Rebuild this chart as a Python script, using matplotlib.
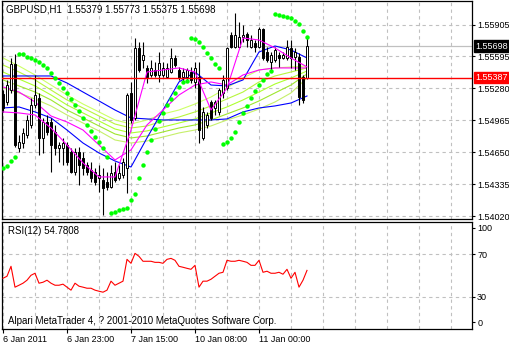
import matplotlib
matplotlib.use('Agg')
import matplotlib.pyplot as plt
import numpy as np

# ---- data (GBPUSD H1, bar 0 = 6 Jan 2011 07:00) ----
opens = [1.55223, 1.55151, 1.55266, 1.55518, 1.54692, 1.54741, 1.54823, 1.54921, 1.55118, 1.55190,
         1.54790, 1.54954, 1.54954, 1.54856, 1.54692, 1.54692, 1.54724, 1.54659, 1.54462, 1.54659,
         1.54593, 1.54528, 1.54478, 1.54462, 1.54396, 1.54380, 1.54364, 1.54314, 1.54462, 1.54396,
         1.54429, 1.54495, 1.55233, 1.54987, 1.55676, 1.55561, 1.55479, 1.55413, 1.55462, 1.55413,
         1.55413, 1.55397, 1.55446, 1.55577, 1.55462, 1.55397, 1.55397, 1.55446, 1.55348, 1.55397,
         1.54790, 1.54921, 1.55151, 1.55085, 1.55052, 1.55233, 1.55282, 1.55807, 1.55692, 1.55692,
         1.55784, 1.55813, 1.55692, 1.55725, 1.55692, 1.55866, 1.55643, 1.55544, 1.55561, 1.55610,
         1.55577, 1.55577, 1.55676, 1.55594, 1.55594, 1.55397, 1.55379]
highs = [1.55266, 1.55364, 1.55577, 1.55616, 1.54823, 1.54888, 1.55020, 1.55184, 1.55413, 1.55233,
         1.54987, 1.55020, 1.54987, 1.54921, 1.54757, 1.54790, 1.54757, 1.54692, 1.54692, 1.54708,
         1.54659, 1.54560, 1.54560, 1.54495, 1.54528, 1.54495, 1.54462, 1.54528, 1.54560, 1.54528,
         1.54593, 1.55233, 1.55348, 1.55774, 1.55741, 1.55741, 1.55512, 1.55561, 1.55544, 1.55643,
         1.55544, 1.55528, 1.55676, 1.55610, 1.55495, 1.55479, 1.55479, 1.55495, 1.55544, 1.55544,
         1.55102, 1.55052, 1.55167, 1.55167, 1.55282, 1.55413, 1.55692, 1.55840, 1.56020, 1.55938,
         1.55905, 1.55840, 1.55807, 1.55758, 1.55889, 1.55879, 1.55692, 1.55643, 1.55692, 1.55643,
         1.55643, 1.55758, 1.55758, 1.55676, 1.55626, 1.55413, 1.55773]
lows = [1.55052, 1.55118, 1.55233, 1.54708, 1.54659, 1.54692, 1.54790, 1.54888, 1.55085, 1.54626,
        1.54642, 1.54823, 1.54462, 1.54626, 1.54560, 1.54528, 1.54528, 1.54446, 1.54429, 1.54331,
        1.54429, 1.54429, 1.54364, 1.54331, 1.54265, 1.54035, 1.54282, 1.54298, 1.54364, 1.54380,
        1.54396, 1.54249, 1.54938, 1.54970, 1.55446, 1.55479, 1.55331, 1.55397, 1.55397, 1.55348,
        1.55397, 1.55387, 1.55430, 1.55495, 1.55364, 1.55348, 1.55348, 1.55331, 1.55282, 1.54741,
        1.54774, 1.54888, 1.54970, 1.55020, 1.55020, 1.55184, 1.55266, 1.55676, 1.55676, 1.55676,
        1.55741, 1.55692, 1.55676, 1.55643, 1.55676, 1.55561, 1.55544, 1.55462, 1.55544, 1.55495,
        1.55571, 1.55561, 1.55479, 1.55462, 1.55118, 1.55134, 1.55375]
closes = [1.55085, 1.55315, 1.55518, 1.54724, 1.54757, 1.54839, 1.54970, 1.55118, 1.55216, 1.54790,
          1.54954, 1.54856, 1.54724, 1.54692, 1.54724, 1.54741, 1.54560, 1.54462, 1.54659, 1.54528,
          1.54495, 1.54462, 1.54396, 1.54364, 1.54429, 1.54298, 1.54314, 1.54446, 1.54380, 1.54446,
          1.54560, 1.55216, 1.54970, 1.55682, 1.55462, 1.55610, 1.55397, 1.55479, 1.55413, 1.55528,
          1.55479, 1.55479, 1.55577, 1.55512, 1.55380, 1.55446, 1.55462, 1.55364, 1.55479, 1.54872,
          1.55052, 1.55020, 1.54987, 1.55151, 1.55266, 1.55364, 1.55676, 1.55692, 1.55807, 1.55790,
          1.55807, 1.55758, 1.55758, 1.55692, 1.55866, 1.55577, 1.55561, 1.55610, 1.55659, 1.55577,
          1.55610, 1.55692, 1.55577, 1.55643, 1.55200, 1.55167, 1.55698]

# parabolic SAR, one dot per bar
sar = [1.54497, 1.54517, 1.54566, 1.54606, 1.55620, 1.55620, 1.55590, 1.55580, 1.55560, 1.55541,
       1.55511, 1.55482, 1.55433, 1.55383, 1.55334, 1.55285, 1.55236, 1.55177, 1.55118, 1.55058,
       1.54990, 1.54921, 1.54862, 1.54802, 1.54753, 1.54694, 1.54606, 1.54054, 1.54064, 1.54084,
       1.54094, 1.54104, 1.54182, 1.54241, 1.54399, 1.54527, 1.54655, 1.54773, 1.54881, 1.54960,
       1.55039, 1.55118, 1.55177, 1.55236, 1.55295, 1.55344, 1.55354, 1.55777, 1.55767, 1.55738,
       1.55688, 1.55629, 1.55580, 1.55521, 1.55482, 1.54734, 1.54753, 1.54793, 1.54852, 1.54950,
       1.55039, 1.55108, 1.55186, 1.55255, 1.55314, 1.55364, 1.55423, 1.55452, 1.56013, 1.56003,
       1.55994, 1.55984, 1.55974, 1.55944, 1.55915, 1.55846, 1.55787]

# moving averages, read every 4th bar
ma_bars = [0, 4, 8, 12, 16, 20, 24, 28, 32, 36, 40, 44, 48, 52, 56, 60, 64, 68, 72, 76]
blue_slow = [1.55403, 1.55403, 1.55403, 1.55403, 1.55334, 1.55245, 1.55157, 1.55068, 1.54990, 1.54980,
             1.54970, 1.54970, 1.54970, 1.54970, 1.54980, 1.55049, 1.55088, 1.55108, 1.55137, 1.55206]
blue_fast = [1.55088, 1.55098, 1.55049, 1.54990, 1.54871, 1.54743, 1.54645, 1.54566, 1.54507, 1.54793,
             1.55068, 1.55344, 1.55442, 1.55314, 1.55305, 1.55364, 1.55639, 1.55698, 1.55659, 1.55580]
pink_fast = [1.55049, 1.55039, 1.55019, 1.54891, 1.54724, 1.54547, 1.54409, 1.54409, 1.54871, 1.55442,
             1.55462, 1.55482, 1.55442, 1.55068, 1.55285, 1.55777, 1.55757, 1.55679, 1.55580, 1.55492]
pink_slow = [1.55295, 1.55245, 1.55147, 1.55009, 1.54950, 1.54871, 1.54724, 1.54576, 1.54675, 1.54921,
             1.55068, 1.55216, 1.55314, 1.55344, 1.55314, 1.55413, 1.55462, 1.55482, 1.55482, 1.55482]
ribbon_1 = [1.55580, 1.55501, 1.55413, 1.55314, 1.55216, 1.55127, 1.55049, 1.54970, 1.54930, 1.54970,
            1.55029, 1.55068, 1.55127, 1.55196, 1.55285, 1.55383, 1.55462, 1.55482, 1.55492, 1.55501]
ribbon_2 = [1.55511, 1.55442, 1.55364, 1.55265, 1.55167, 1.55088, 1.55009, 1.54930, 1.54891, 1.54911,
            1.54960, 1.54999, 1.55049, 1.55108, 1.55177, 1.55245, 1.55344, 1.55403, 1.55442, 1.55482]
ribbon_3 = [1.55442, 1.55373, 1.55305, 1.55216, 1.55118, 1.55039, 1.54960, 1.54881, 1.54842, 1.54862,
            1.54901, 1.54940, 1.54980, 1.55039, 1.55098, 1.55167, 1.55245, 1.55324, 1.55383, 1.55452]
ribbon_4 = [1.55364, 1.55305, 1.55245, 1.55167, 1.55068, 1.54990, 1.54911, 1.54832, 1.54793, 1.54812,
            1.54852, 1.54891, 1.54921, 1.54970, 1.55029, 1.55088, 1.55157, 1.55236, 1.55314, 1.55423]
ribbon_5 = [1.55285, 1.55236, 1.55177, 1.55108, 1.55019, 1.54940, 1.54862, 1.54773, 1.54743, 1.54763,
            1.54802, 1.54842, 1.54871, 1.54911, 1.54970, 1.55019, 1.55078, 1.55147, 1.55236, 1.55383]

rsi = [47.4, 49.3, 58.6, 39.1, 40.9, 42.8, 45.6, 50.2, 52.1, 42.8,
       43.7, 45.6, 42.8, 40.9, 40.9, 41.9, 39.1, 36.3, 42.8, 40.0,
       39.1, 38.1, 38.1, 36.3, 35.3, 34.4, 36.3, 44.7, 40.9, 42.8,
       44.7, 65.1, 61.4, 70.7, 67.9, 63.3, 63.3, 63.3, 62.3, 62.3,
       61.4, 65.1, 66.0, 64.2, 58.6, 57.7, 56.7, 55.8, 59.5, 39.1,
       44.7, 44.7, 46.5, 49.3, 52.1, 53.0, 64.2, 63.3, 63.3, 64.2,
       63.3, 62.3, 59.5, 59.5, 64.2, 53.0, 54.0, 52.1, 52.1, 53.0,
       51.2, 55.8, 47.4, 53.0, 39.1, 45.6, 54.78]

price_ticks = [1.55905, 1.55595, 1.55280, 1.54965, 1.54650, 1.54335, 1.54020]
date_ticks = [0, 16, 32, 48, 64]
date_labels = ['6 Jan 2011', '6 Jan 23:00', '7 Jan 15:00', '10 Jan 08:00', '11 Jan 00:00']
bid = 1.55698
hline = 1.55387
title = 'GBPUSD,H1  1.55379 1.55773 1.55375 1.55698'

plt.rcParams['font.family'] = ['Liberation Sans', 'DejaVu Sans']
FS = 7
FS_AXIS = 6.5

W, H = 510, 346
fig = plt.figure(figsize=(W / 100, H / 100), dpi=100)
fig.patch.set_facecolor('white')


def box(l, t, r, b):
    return [l / W, 1 - b / H, (r - l) / W, (b - t) / H]


ax = fig.add_axes(box(2, 1, 472, 219))
rx = fig.add_axes(box(2, 222, 472, 329))

grid_kw = dict(color='#c0c0c0', lw=0.8, ls=(0, (3, 3)), zorder=0)
for a in (ax, rx):
    a.set_xlim(-0.25, 117.25)
    for gx in range(0, 118, 8):
        a.axvline(gx, **grid_kw)
    for s in a.spines.values():
        s.set_color('black')
        s.set_linewidth(0.9)

# ---- main price panel ----
ax.set_ylim(1.53995, 1.56141)
for p in price_ticks:
    ax.axhline(p, **grid_kw)

bars = np.arange(len(opens))
o, c = np.array(opens), np.array(closes)
lo_body, hi_body = np.minimum(o, c), np.maximum(o, c)
ax.vlines(bars, lows, highs, color='black', lw=0.8, zorder=3)
ax.bar(bars, hi_body - lo_body, bottom=lo_body, width=0.5,
       color=np.where(c >= o, 'white', 'black'), edgecolor='black', linewidth=0.7, zorder=4)

ribbon_colors = ['#ccff66', '#b8f53d', '#adff2f', '#9fe62e', '#c6ef6a']
for vals, col in zip([ribbon_1, ribbon_2, ribbon_3, ribbon_4, ribbon_5], ribbon_colors):
    ax.plot(ma_bars, vals, color=col, lw=0.8, zorder=2)
ax.plot(ma_bars, blue_slow, color='#0000ff', lw=0.8, zorder=2)
ax.plot(ma_bars, blue_fast, color='#0000ff', lw=0.8, zorder=2)
ax.plot(ma_bars, pink_slow, color='#ff00ff', lw=0.8, zorder=2)
ax.plot(ma_bars, pink_fast, color='#ff00ff', lw=0.8, zorder=5)
ax.plot(bars, sar, ls='none', marker='o', ms=3.2, mew=0, color='#00ff00', zorder=6)

ax.axhline(bid, color='#c0c0c0', lw=0.9, zorder=1)
ax.axhline(hline, color='red', lw=1.0, zorder=5)

ax.set_xticks([])
ax.yaxis.tick_right()
ax.set_yticks(price_ticks)
ax.set_yticklabels(['%.5f' % p for p in price_ticks])
ax.tick_params(axis='y', direction='out', length=2.5, width=0.8, pad=1.2, labelsize=FS_AXIS)

# price tags on the right axis
for val, bg in ((bid, 'black'), (hline, 'red')):
    ax.annotate('%.5f' % val, xy=(1, val), xycoords=('axes fraction', 'data'),
                xytext=(2.2, 0), textcoords='offset points', va='center', ha='left',
                color='white', fontsize=FS_AXIS,
                bbox=dict(boxstyle='square,pad=0.15', fc=bg, ec=bg))

fig.text(6 / W, 1 - 10 / H, title, va='center', ha='left', fontsize=FS)

# ---- RSI panel ----
rx.set_ylim(0, 100)
rx.axhline(70, **grid_kw)
rx.axhline(30, **grid_kw)
rx.plot(bars, rsi, color='red', lw=0.8, zorder=3)
rx.yaxis.tick_right()
rx.set_yticks([94.4, 70, 30, 6.5])
rx.set_yticklabels(['100', '70', '30', '0'])
rx.tick_params(axis='y', direction='out', length=2.5, width=0.8, pad=1.2, labelsize=FS_AXIS)
rx.set_xticks(date_ticks)
rx.set_xticklabels(date_labels, ha='left')
rx.tick_params(axis='x', direction='out', length=3, width=0.8, pad=1.5, labelsize=FS_AXIS)
rx.text(6 / 470, 1 - 9 / 107, 'RSI(12) 54.7808', transform=rx.transAxes,
        va='center', ha='left', fontsize=FS)
rx.text(6 / 470, 1 - 99 / 107, 'Alpari MetaTrader 4, ? 2001-2010 MetaQuotes Software Corp.',
        transform=rx.transAxes, va='center', ha='left', fontsize=FS)

fig.savefig('out.png', dpi=100, facecolor='white')
